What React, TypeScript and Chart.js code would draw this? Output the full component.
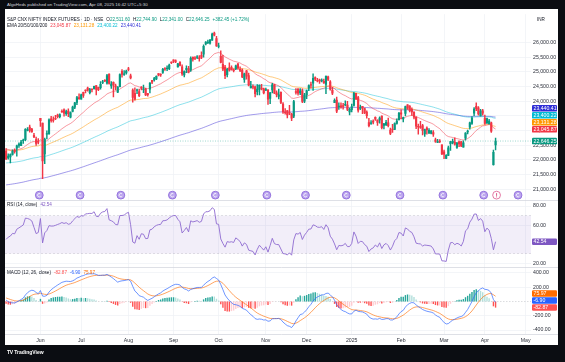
import React, { useEffect, useRef } from 'react';
import { Chart, registerables } from 'chart.js';

Chart.register(...registerables);

const FONT = '"Liberation Sans", Arial, Helvetica, sans-serif';

// ---------- trading days (categories) ----------
const may2024 = [9, 10, 13, 14, 15, 16, 17, 21, 22, 23, 24, 27, 28, 29, 30, 31];
const jun2024 = [3, 4, 5, 6, 7, 10, 11, 12, 13, 14, 18, 19, 20, 21, 24, 25, 26, 27, 28];
const jul2024 = [1, 2, 3, 4, 5, 8, 9, 10, 11, 12, 15, 16, 18, 19, 22, 23, 24, 25, 26, 29, 30, 31];
const aug2024 = [1, 2, 5, 6, 7, 8, 9, 12, 13, 14, 16, 19, 20, 21, 22, 23, 26, 27, 28, 29, 30];
const sep2024 = [2, 3, 4, 5, 6, 9, 10, 11, 12, 13, 16, 17, 18, 19, 20, 23, 24, 25, 26, 27, 30];
const oct2024 = [1, 3, 4, 7, 8, 9, 10, 11, 14, 15, 16, 17, 18, 21, 22, 23, 24, 25, 28, 29, 30, 31];
const nov2024 = [1, 4, 5, 6, 7, 8, 11, 12, 13, 14, 18, 19, 21, 22, 25, 26, 27, 28, 29];
const dec2024 = [2, 3, 4, 5, 6, 9, 10, 11, 12, 13, 16, 17, 18, 19, 20, 23, 24, 26, 27, 30, 31];
const jan2025 = [1, 2, 3, 6, 7, 8, 9, 10, 13, 14, 15, 16, 17, 20, 21, 22, 23, 24, 27, 28, 29, 30, 31];
const feb2025 = [1, 3, 4, 5, 6, 7, 10, 11, 12, 13, 14, 17, 18, 19, 20, 21, 24, 25, 27, 28];
const mar2025 = [3, 4, 5, 6, 7, 10, 11, 12, 13, 17, 18, 19, 20, 21, 24, 25, 26, 27, 28];
const apr2025 = [1, 2, 3, 4, 7, 8];
const futureApr2025 = [9, 11, 15, 16, 17, 21, 22, 23, 24, 25, 28, 29, 30];
const futureMay2025 = [2, 5, 6];

const MONTH_NAMES = ['Jan', 'Feb', 'Mar', 'Apr', 'May', 'Jun', 'Jul', 'Aug', 'Sep', 'Oct', 'Nov', 'Dec'];

// ---------- OHLC (NIFTY futures, daily) ----------
const opens = [
  22304, 22070, 22108, 22193, 22335, 22399, 22495, 22484, 22657, 22695, 23011, 23118, 23057, 22842, 22697, 22648,
  23418, 23259, 22208, 22878, 22901, 23399, 23363, 23424, 23533, 23481, 23650, 23710, 23579, 23664, 23462, 23658, 23803, 23961, 24125,
  24073, 24308, 24372, 24449, 24293, 24410, 24431, 24539, 24480, 24468, 24643, 24695, 24623, 24933, 24525, 24648, 24524, 24310, 24503, 25023, 24919, 24971,
  25110, 24869, 24383, 24269, 24370, 24328, 24467, 24401, 24422, 24264, 24415, 24716, 24728, 24760, 24943, 24925, 24986, 25105, 25110, 25115, 25329,
  25413, 25380, 25169, 25330, 25173, 24903, 25079, 25115, 25070, 25510, 25486, 25496, 25482, 25567, 25605, 25953, 26001, 25979, 26085, 26328, 26141,
  25868, 25532, 25261, 25165, 24912, 25146, 25148, 25083, 25103, 25267, 25088, 25064, 24744, 25036, 24878, 24459, 24492, 24498, 24331, 24408, 24451, 24429,
  24382, 24396, 24096, 24388, 24569, 24287, 24168, 24305, 23902, 23622, 23685, 23609, 23568, 23491, 24333, 24423, 24284, 24354, 24007,
  24221, 24447, 24569, 24619, 24809, 24713, 24732, 24695, 24684, 24578, 24833, 24664, 24377, 23957, 24040, 23818, 23850, 23855, 23881, 23876, 23640,
  23717, 23863, 24276, 24126, 23759, 23826, 23754, 23631, 23275, 23245, 23330, 23457, 23358, 23370, 23501, 23179, 23208, 23263, 23020, 23041, 23040, 23249, 23376,
  23608, 23399, 23589, 23882, 23841, 23729, 23624, 23463, 23131, 23135, 23177, 22890, 23085, 22927, 22902, 22937, 22689, 22596, 22648, 22513,
  22274, 22054, 22153, 22556, 22588, 22601, 22425, 22616, 22622, 22433, 22742, 22954, 23116, 23249, 23595, 23832, 23780, 23513, 23680,
  23422, 23272, 23230, 23271, 21838, 22511.6,
];
const highs = [
  22387, 22211, 22212, 22350, 22378, 22512, 22583, 22671, 22709, 23073, 23106, 23190, 23078, 22905, 22785, 22730,
  23419, 23259, 22751, 22990, 23400, 23492, 23469, 23521, 23561, 23571, 23711, 23744, 23704, 23747, 23638, 23835, 23969, 24167, 24254,
  24245, 24316, 24389, 24482, 24444, 24425, 24523, 24541, 24483, 24672, 24715, 24742, 24918, 24934, 24675, 24662, 24584, 24506, 24941, 25079, 25051, 25065,
  25158, 24932, 24430, 24463, 24417, 24420, 24499, 24553, 24440, 24276, 24643, 24718, 24814, 24867, 24947, 24938, 25123, 25154, 25209, 25272, 25349,
  25413, 25413, 25296, 25355, 25248, 25037, 25210, 25194, 25513, 25510, 25525, 25562, 25562, 25691, 25929, 26036, 26091, 26113, 26330, 26357, 26215,
  25987, 25719, 25566, 25223, 25125, 25314, 25214, 25108, 25239, 25293, 25173, 25109, 24966, 25059, 24962, 24684, 24560, 24520, 24572, 24564, 24579, 24453,
  24448, 24396, 24309, 24617, 24583, 24356, 24416, 24322, 23953, 23755, 23686, 23861, 23587, 24036, 24432, 24423, 24434, 24425, 24269,
  24381, 24561, 24653, 24937, 24831, 24785, 24757, 24771, 24755, 24872, 24861, 24704, 24474, 24084, 24145, 23949, 23947, 23934, 24018, 23996, 23769,
  23902, 24306, 24276, 24170, 23875, 23832, 23769, 23676, 23421, 23344, 23373, 23471, 23373, 23471, 23506, 23249, 23350, 23427, 23087, 23217, 23263, 23402, 23626,
  23712, 23461, 23842, 23887, 23853, 23774, 23648, 23471, 23224, 23316, 23213, 23054, 23130, 23072, 23003, 23002, 22748, 22705, 22693, 22513,
  22341, 22186, 22474, 22636, 22713, 22757, 22602, 22657, 22638, 22657, 22937, 23020, 23296, 23483, 23788, 23949, 23817, 23726, 23729,
  23530, 23430, 23386, 23294, 22335, 22744.9,
];
const lows = [
  22012, 22030, 21901, 22161, 22232, 22134, 22425, 22484, 22563, 22657, 22988, 22951, 22938, 22765, 22497, 22545,
  23142, 21361, 21871, 22722, 22869, 23286, 23287, 23375, 23433, 23434, 23620, 23492, 23522, 23479, 23430, 23643, 23753, 23885, 24065,
  24073, 24136, 24287, 24345, 24249, 24321, 24412, 24221, 24364, 24411, 24602, 24667, 24585, 24588, 24443, 24154, 24387, 24291, 24490, 24827, 24879, 24922,
  25036, 24766, 23974, 24040, 24265, 24159, 24391, 24293, 24196, 24179, 24285, 24602, 24687, 24734, 24864, 24851, 24954, 25053, 25044, 25078, 25280,
  25315, 25315, 25163, 25207, 24881, 24834, 24977, 24966, 25021, 25372, 25416, 25456, 25365, 25456, 25506, 25927, 25966, 25951, 26078, 26231, 25874,
  25819, 25310, 25046, 24774, 24836, 25027, 25060, 25001, 25079, 25088, 25009, 24808, 24647, 24759, 24526, 24458, 24421, 24153, 24215, 24220, 24387, 24252,
  24360, 23896, 23923, 24285, 24259, 24146, 24084, 23919, 23589, 23564, 23430, 23543, 23343, 23439, 24246, 24206, 24225, 23954, 23956,
  24088, 24360, 24446, 24375, 24700, 24660, 24614, 24663, 24607, 24260, 24704, 24383, 24229, 23950, 23617, 23727, 23765, 23733, 23840, 23681, 23540,
  23642, 23831, 24056, 23631, 23717, 23576, 23583, 23424, 23128, 23214, 23226, 23352, 23180, 23251, 23057, 23061, 23170, 23131, 22866, 22937, 23030, 23219, 23358,
  23399, 23302, 23504, 23728, 23636, 23523, 23396, 23067, 22878, 23073, 22854, 22805, 22881, 22894, 22892, 22801, 22598, 22593, 22588, 22184,
  22045, 22044, 22148, 22325, 22544, 22509, 22394, 22458, 22457, 22433, 22679, 22887, 23054, 23214, 23513, 23681, 23531, 23492, 23531,
  23216, 23238, 23226, 22938, 21823, 22341,
];
const closes = [
  22038, 22135, 22184, 22298, 22281, 22483, 22546, 22609, 22677, 23047, 23037, 23012, 22968, 22784, 22568, 22611,
  23344, 21964, 22700, 22901, 23370, 23339, 23345, 23403, 23479, 23546, 23638, 23596, 23647, 23581, 23618, 23801, 23949, 24124, 24091,
  24222, 24204, 24366, 24382, 24404, 24401, 24513, 24404, 24396, 24582, 24667, 24693, 24881, 24611, 24589, 24559, 24493, 24486, 24915, 24916, 24937, 25031,
  25091, 24798, 24136, 24072, 24377, 24197, 24448, 24427, 24220, 24224, 24621, 24653, 24779, 24851, 24891, 24903, 25090, 25097, 25132, 25232, 25316,
  25359, 25360, 25279, 25225, 24932, 25016, 25121, 24998, 25469, 25437, 25464, 25499, 25457, 25496, 25871, 26019, 26020, 26084, 26296, 26259, 25891,
  25877, 25330, 25095, 24876, 25093, 25062, 25078, 25044, 25208, 25137, 25051, 24830, 24934, 24861, 24552, 24515, 24479, 24261, 24419, 24547, 24421, 24285,
  24384, 24075, 24293, 24564, 24279, 24228, 24221, 23963, 23639, 23613, 23533, 23598, 23429, 23987, 24301, 24274, 24355, 23994, 24211,
  24356, 24537, 24547, 24788, 24758, 24699, 24690, 24721, 24628, 24848, 24748, 24416, 24279, 24032, 23668, 23833, 23808, 23830, 23893, 23725, 23725,
  23823, 24269, 24085, 23696, 23787, 23769, 23607, 23512, 23166, 23256, 23293, 23392, 23283, 23425, 23105, 23235, 23286, 23172, 22909, 23037, 23243, 23329, 23588,
  23562, 23442, 23819, 23776, 23683, 23640, 23461, 23152, 23125, 23111, 23009, 23039, 23025, 23013, 22993, 22876, 22633, 22628, 22625, 22205,
  22199, 22163, 22417, 22625, 22633, 22540, 22578, 22550, 22477, 22589, 22914, 22987, 23271, 23430, 23738, 23749, 23567, 23672, 23599,
  23245, 23412, 23330, 22984, 22263.8, 22646.25,
];

// ---------- indicator settings / values ----------
const emaPeriods = [20, 50, 100, 200];
const emaSeeds = [22380, 22340, 21900, 21150]; // EMA levels at the first visible bar
const emaLegend = [23045.87, 23131.28, 23400.22, 23440.41];
const emaTextColors = ['#F23645', '#FF9800', '#00BCD4', '#2E2ED6'];
const emaLineColors = ['rgba(242,54,69,0.5)', 'rgba(255,152,0,0.5)', 'rgba(0,188,212,0.45)', 'rgba(70,55,215,0.5)'];
const rsiSeedAvg = [75, 92]; // avg gain, avg loss at first bar
const rsiLegend = 42.54;
const rsiBand = [30, 70];
const macdSeeds = [22400, 22380, 50]; // EMA12, EMA26, signal at first bar
const macdLegend = [-82.87, -6.9, 75.97]; // histogram, macd, signal
const priceTicks = [21000, 21500, 22000, 22500, 23000, 23500, 24000, 24500, 25000, 25500, 26000];
const rsiTicks = [20, 60, 80];
const macdTicks = [-400, -200, 200, 400];
const rolloverDates = ['2024-05-31', '2024-06-28', '2024-07-26', '2024-08-30', '2024-09-27', '2024-11-01',
  '2024-11-29', '2024-12-27', '2025-01-31', '2025-02-28', '2025-03-28', '2025-04-25'];
const alertDates = ['2025-04-08'];

// ---------- derived ----------
const pad = (n: number) => String(n).padStart(2, '0');
const dayGroups: Array<[number, number, number[]]> = [
  [2024, 5, may2024], [2024, 6, jun2024], [2024, 7, jul2024], [2024, 8, aug2024], [2024, 9, sep2024],
  [2024, 10, oct2024], [2024, 11, nov2024], [2024, 12, dec2024], [2025, 1, jan2025], [2025, 2, feb2025],
  [2025, 3, mar2025], [2025, 4, apr2025], [2025, 4, futureApr2025], [2025, 5, futureMay2025],
];
const labels: string[] = [];
dayGroups.forEach(([y, m, days]) => days.forEach((d) => labels.push(`${y}-${pad(m)}-${pad(d)}`)));
const monthTicks: number[] = [];
const monthTickText: Record<number, string> = {};
for (let i = 1; i < labels.length; i++) {
  if (labels[i].slice(0, 7) !== labels[i - 1].slice(0, 7)) {
    const m = +labels[i].slice(5, 7);
    monthTicks.push(i);
    monthTickText[i] = m === 1 ? labels[i].slice(0, 4) : MONTH_NAMES[m - 1];
  }
}

function ema(src: number[], period: number, seed: number): number[] {
  const k = 2 / (period + 1);
  const out: number[] = [];
  let prev = seed;
  src.forEach((v, i) => {
    prev = i === 0 ? seed : prev + k * (v - prev);
    out.push(prev);
  });
  return out;
}
const emaSeries = emaPeriods.map((p, i) => ema(closes, p, emaSeeds[i]));

const rsi: number[] = [];
{
  let ag = rsiSeedAvg[0];
  let al = rsiSeedAvg[1];
  closes.forEach((c, i) => {
    if (i > 0) {
      const ch = c - closes[i - 1];
      ag = (ag * 13 + Math.max(ch, 0)) / 14;
      al = (al * 13 + Math.max(-ch, 0)) / 14;
    }
    rsi.push(100 - 100 / (1 + ag / al));
  });
}
const ema12 = ema(closes, 12, macdSeeds[0]);
const ema26 = ema(closes, 26, macdSeeds[1]);
const macd = ema12.map((v, i) => v - ema26[i]);
const signal = ema(macd, 9, macdSeeds[2]);
const hist = macd.map((v, i) => v - signal[i]);
const histColors = hist.map((h, i) => {
  const p = i > 0 ? hist[i - 1] : h;
  if (h >= 0) return h >= p ? '#26A69A' : '#B2DFDB';
  return h <= p ? '#FF5252' : '#FFCDD2';
});
const UP = '#089981';
const DOWN = '#F23645';
const candleColors = closes.map((c, i) => (c >= opens[i] ? UP : DOWN));
const fmt2 = (v: number) => v.toLocaleString('en-US', { minimumFractionDigits: 2, maximumFractionDigits: 2 });

const last = closes.length - 1;
const lastChange = closes[last] - closes[last - 1];
const lastPct = (lastChange / closes[last - 1]) * 100;

// ---------- canvas geometry ----------
const CW = 553;
const CH = 336;
const AXIS_W = 27;
const XAXIS_H = 11;

function resolve(items: { v: number; y: number; color: string; text: string; tc?: string }[], h: number) {
  const sorted = [...items].sort((a, b) => b.y - a.y);
  let prev = Infinity;
  sorted.forEach((it) => {
    it.y = Math.min(it.y, prev - h);
    prev = it.y;
  });
  return sorted;
}

const overlayPlugin = {
  id: 'tvOverlay',
  beforeDatasetsDraw(chart: any) {
    const { ctx, chartArea: a, scales } = chart;
    const yR = scales.yR;
    const yM = scales.yM;
    const yP = scales.yP;
    ctx.save();
    // RSI band
    const t = yR.getPixelForValue(rsiBand[1]);
    const b = yR.getPixelForValue(rsiBand[0]);
    ctx.fillStyle = 'rgba(126,87,194,0.1)';
    ctx.fillRect(a.left, t, a.right - a.left, b - t);
    ctx.setLineDash([2, 2]);
    ctx.lineWidth = 0.6;
    ctx.strokeStyle = 'rgba(120,123,134,0.35)';
    [rsiBand[0], rsiBand[1]].forEach((v) => {
      const y = yR.getPixelForValue(v);
      ctx.beginPath();
      ctx.moveTo(a.left, y);
      ctx.lineTo(a.right, y);
      ctx.stroke();
    });
    // MACD zero line
    const z = yM.getPixelForValue(0);
    ctx.strokeStyle = 'rgba(120,123,134,0.45)';
    ctx.setLineDash([1.5, 1.5]);
    ctx.beginPath();
    ctx.moveTo(a.left, z);
    ctx.lineTo(a.right, z);
    ctx.stroke();
    // current price line
    const py = yP.getPixelForValue(closes[last]);
    ctx.strokeStyle = 'rgba(8,153,129,0.55)';
    ctx.setLineDash([1, 1.5]);
    ctx.lineWidth = 0.7;
    ctx.beginPath();
    ctx.moveTo(a.left, py);
    ctx.lineTo(a.right, py);
    ctx.stroke();
    ctx.restore();
  },
  afterDraw(chart: any) {
    const { ctx, chartArea: a, scales } = chart;
    const x = scales.x;
    const yP = scales.yP;
    const yR = scales.yR;
    const yM = scales.yM;
    ctx.save();
    // pane separators
    ctx.strokeStyle = '#D6D8DF';
    ctx.lineWidth = 0.8;
    [yP.bottom, yR.bottom, a.bottom].forEach((y: number) => {
      ctx.beginPath();
      ctx.moveTo(0, Math.round(y) + 0.5);
      ctx.lineTo(CW, Math.round(y) + 0.5);
      ctx.stroke();
    });
    // event icons
    const iy = yP.bottom - 5;
    rolloverDates.concat(alertDates).forEach((d) => {
      const i = labels.indexOf(d);
      if (i < 0) return;
      const cx = x.getPixelForValue(i) + 1;
      const alert = alertDates.includes(d);
      ctx.beginPath();
      ctx.arc(cx, iy, 3.9, 0, Math.PI * 2);
      ctx.fillStyle = alert ? '#FFFFFF' : '#BCA6EE';
      ctx.fill();
      ctx.lineWidth = 0.9;
      ctx.strokeStyle = alert ? '#E06A9A' : '#8E6BDB';
      ctx.stroke();
      ctx.beginPath();
      if (alert) {
        ctx.strokeStyle = '#D9487E';
        ctx.moveTo(cx, iy - 2);
        ctx.lineTo(cx, iy + 0.7);
        ctx.stroke();
        ctx.fillStyle = '#D9487E';
        ctx.fillRect(cx - 0.45, iy + 1.3, 0.9, 0.9);
      } else {
        ctx.strokeStyle = '#FFFFFF';
        ctx.lineWidth = 0.8;
        ctx.arc(cx, iy, 1.7, Math.PI * 0.2, Math.PI * 1.7);
        ctx.stroke();
      }
    });
    // value boxes on the right axis
    const drawBoxes = (items: any[]) => {
      items.forEach((it) => {
        const bx = a.right + 1;
        const bw = CW - bx - 1;
        const bh = 6.6;
        ctx.fillStyle = it.color;
        ctx.beginPath();
        (ctx as any).roundRect(bx, it.y - bh / 2, bw, bh, 1.2);
        ctx.fill();
        ctx.fillStyle = it.tc || '#FFFFFF';
        ctx.font = `5.2px ${FONT}`;
        ctx.textBaseline = 'middle';
        ctx.textAlign = 'left';
        ctx.fillText(it.text, a.right + 2.5, it.y + 0.3);
      });
    };
    const priceItems = resolve([
      { v: closes[last], y: yP.getPixelForValue(closes[last]), color: UP, text: fmt2(closes[last]) },
      ...emaLegend.map((v, i) => ({ v, y: yP.getPixelForValue(v), color: emaTextColors[i], text: fmt2(v) })),
    ], 7);
    drawBoxes(priceItems);
    drawBoxes([{ v: rsiLegend, y: yR.getPixelForValue(rsiLegend), color: '#7E57C2', text: fmt2(rsiLegend) }]);
    const macdItems = resolve([
      { v: macdLegend[0], y: yM.getPixelForValue(macdLegend[0]), color: '#FF5252', text: fmt2(macdLegend[0]) },
      { v: macdLegend[1], y: yM.getPixelForValue(macdLegend[1]), color: '#2962FF', text: fmt2(macdLegend[1]) },
      { v: macdLegend[2], y: yM.getPixelForValue(macdLegend[2]), color: '#FF6D00', text: fmt2(macdLegend[2]) },
    ], 7);
    drawBoxes(macdItems);
    ctx.restore();
  },
};

function yAxis(weight: number, min: number, max: number, ticks: number[]) {
  return {
    type: 'linear' as const,
    position: 'right' as const,
    stack: 'panes',
    stackWeight: weight,
    min,
    max,
    afterBuildTicks: (s: any) => {
      s.ticks = ticks.map((v) => ({ value: v }));
    },
    afterFit: (s: any) => {
      s.width = AXIS_W;
    },
    border: { display: false },
    grid: { color: '#F0F2F6', lineWidth: 0.8, drawTicks: false },
    ticks: {
      padding: 2,
      color: '#2A2E39',
      font: { size: 5.2, family: FONT },
      callback: (v: any) => fmt2(Number(v)),
    },
  };
}

export default function App() {
  const ref = useRef<HTMLCanvasElement>(null);
  useEffect(() => {
    const chart = new Chart(ref.current as HTMLCanvasElement, {
      type: 'bar',
      data: {
        labels,
        datasets: [
          {
            type: 'bar',
            label: 'wick',
            data: lows.map((l, i) => [l, highs[i]]) as any,
            backgroundColor: candleColors,
            barThickness: 0.8,
            grouped: false,
            yAxisID: 'yP',
          },
          {
            type: 'bar',
            label: 'body',
            data: opens.map((o, i) => [o, closes[i]]) as any,
            backgroundColor: candleColors,
            barThickness: 1.5,
            minBarLength: 0.6,
            grouped: false,
            yAxisID: 'yP',
          },
          ...emaSeries.map((s, i) => ({
            type: 'line' as const,
            label: `EMA ${emaPeriods[i]}`,
            data: s,
            borderColor: emaLineColors[i],
            borderWidth: 1,
            pointRadius: 0,
            tension: 0,
            yAxisID: 'yP',
          })),
          {
            type: 'line',
            label: 'RSI',
            data: rsi,
            borderColor: '#8E6BD0',
            borderWidth: 0.9,
            pointRadius: 0,
            yAxisID: 'yR',
          },
          {
            type: 'line',
            label: 'MACD',
            data: macd,
            borderColor: 'rgba(41,98,255,0.75)',
            borderWidth: 0.9,
            pointRadius: 0,
            yAxisID: 'yM',
          },
          {
            type: 'line',
            label: 'Signal',
            data: signal,
            borderColor: 'rgba(255,109,0,0.7)',
            borderWidth: 0.9,
            pointRadius: 0,
            yAxisID: 'yM',
          },
          {
            type: 'bar',
            label: 'Histogram',
            data: hist,
            backgroundColor: histColors,
            barPercentage: 0.65,
            categoryPercentage: 1,
            grouped: false,
            yAxisID: 'yM',
          },
        ] as any,
      },
      options: {
        responsive: false,
        animation: false,
        events: [],
        layout: { padding: 0 },
        plugins: { legend: { display: false }, tooltip: { enabled: false } },
        scales: {
          x: {
            type: 'category',
            offset: true,
            afterBuildTicks: (s: any) => {
              s.ticks = monthTicks.map((i) => ({ value: i }));
            },
            afterFit: (s: any) => {
              s.height = XAXIS_H;
            },
            border: { display: false },
            grid: { color: '#F0F2F6', lineWidth: 0.8, offset: false, drawTicks: false },
            ticks: {
              autoSkip: false,
              maxRotation: 0,
              padding: 3,
              color: '#2A2E39',
              font: { size: 5.2, family: FONT },
              callback: (v: any) => monthTickText[Number(v)] ?? '',
            },
          },
          yP: yAxis(189, 20631, 26973, priceTicks),
          yR: yAxis(68, 15.86, 86.2, rsiTicks),
          yM: yAxis(68, -455.2, 482.8, macdTicks),
        } as any,
      },
      plugins: [overlayPlugin],
    });
    return () => chart.destroy();
  }, []);

  const t = (left: number, top: number, size: number, color: string, children: React.ReactNode, extra: any = {}) => (
    <div
      style={{
        position: 'absolute', left, top, fontSize: size, lineHeight: `${size + 1}px`, color,
        whiteSpace: 'nowrap', fontFamily: FONT, ...extra,
      }}
    >
      {children}
    </div>
  );
  const sp = <span style={{ display: 'inline-block', width: 3 }} />;

  return (
    <div style={{ position: 'fixed', left: 0, top: 0, width: 565, height: 362, background: '#0B0D12', overflow: 'hidden' }}>
      <div style={{ position: 'absolute', left: 5, top: 9, width: CW, height: CH, background: '#FFFFFF' }}>
        <canvas ref={ref} width={CW} height={CH} style={{ display: 'block', width: CW, height: CH }} />
      </div>
      {t(7, 1.8, 4.4, '#D1D4DC', 'AlgoHeds published on TradingView.com, Apr 08, 2025 16:42 UTC+5:30')}
      {t(7, 16.6, 4.6, '#131722', (
        <>
          S&amp;P CNX NIFTY INDEX FUTURES · 1D · NSE{sp}
          O<span style={{ color: UP }}>{fmt2(opens[last])}</span>{sp}
          H<span style={{ color: UP }}>{fmt2(highs[last])}</span>{sp}
          L<span style={{ color: UP }}>{fmt2(lows[last])}</span>{sp}
          C<span style={{ color: UP }}>{fmt2(closes[last])}</span>{sp}
          <span style={{ color: UP }}>+{fmt2(lastChange)} (+{lastPct.toFixed(2)}%)</span>
        </>
      ))}
      {t(7, 22.6, 4.6, '#131722', (
        <>
          EMA 20/50/100/200{sp}
          {emaLegend.map((v, i) => (
            <span key={i} style={{ color: emaTextColors[i], marginRight: 3 }}>{fmt2(v)}</span>
          ))}
        </>
      ))}
      {t(537, 17.4, 4.6, '#131722', 'INR')}
      {t(7, 201.5, 4.6, '#131722', (
        <>
          RSI (14, close){sp}<span style={{ color: '#7E57C2' }}>{fmt2(rsiLegend)}</span>
        </>
      ))}
      {t(7, 269.5, 4.6, '#131722', (
        <>
          MACD (12, 26, close){sp}
          <span style={{ color: '#FF5252' }}>{fmt2(macdLegend[0])}</span>{sp}
          <span style={{ color: '#2962FF' }}>{fmt2(macdLegend[1])}</span>{sp}
          <span style={{ color: '#FF6D00' }}>{fmt2(macdLegend[2])}</span>
        </>
      ))}
      {t(7, 348.5, 5, '#FFFFFF', (
        <>
          <b style={{ letterSpacing: -0.3 }}>TV</b> TradingView
        </>
      ), { fontWeight: 600 })}
    </div>
  );
}
